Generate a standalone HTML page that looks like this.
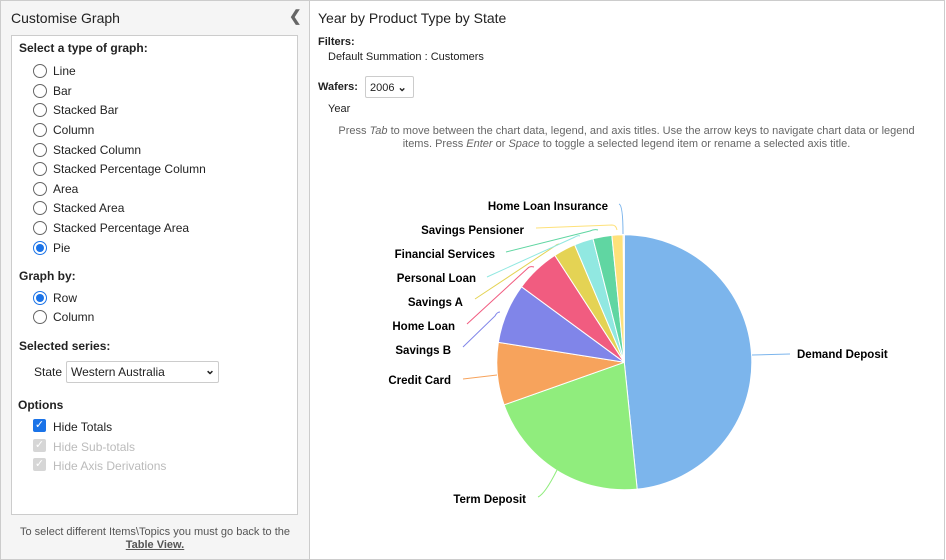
<!DOCTYPE html>
<html><head><meta charset="utf-8"><style>
body{margin:0;width:946px;height:560px;overflow:hidden;font-family:"Liberation Sans",Arial,sans-serif;background:#fff;position:relative}
.left{position:absolute;left:0;top:0;width:308px;height:558px;background:#f5f5f5;border:1px solid #ccc}
.right{position:absolute;left:309px;top:0;width:635px;height:558px;border:1px solid #ccc;border-left:none}
.ttl{position:absolute;left:10px;top:9px;font-size:14px;color:#222}
.box{position:absolute;left:10px;top:34px;width:285px;height:478px;background:#fff;border:1px solid #ccc}
.t{position:absolute;font-size:12px;color:#222}
.b{font-weight:bold}
.rad{position:absolute;width:12px;height:12px;border:1px solid #666;border-radius:50%;background:#fff}
.rad.on{border-color:#1a73e8}
.rad.on::after{content:"";position:absolute;left:2px;top:2px;width:8px;height:8px;border-radius:50%;background:#1a73e8}
.cb{position:absolute;width:13px;height:13px;border-radius:2px;background:#1a73e8;color:#fff;font-size:11px;line-height:13px;text-align:center}
.cb.dis{background:#d6d6d6}
</style></head><body>
<div class="left">
<div class="ttl">Customise Graph</div>
<div class="t" style="left:288px;top:6px;font-size:15px;color:#666;font-weight:bold">&#10094;</div>
<div class="box">
<div class="t b" style="left:7px;top:5px">Select a type of graph:</div>
<div class="rad" style="left:21px;top:28px"></div><div class="t" style="left:41px;top:28px">Line</div>
<div class="rad" style="left:21px;top:48px"></div><div class="t" style="left:41px;top:48px">Bar</div>
<div class="rad" style="left:21px;top:67px"></div><div class="t" style="left:41px;top:67px">Stacked Bar</div>
<div class="rad" style="left:21px;top:87px"></div><div class="t" style="left:41px;top:87px">Column</div>
<div class="rad" style="left:21px;top:107px"></div><div class="t" style="left:41px;top:107px">Stacked Column</div>
<div class="rad" style="left:21px;top:126px"></div><div class="t" style="left:41px;top:126px">Stacked Percentage Column</div>
<div class="rad" style="left:21px;top:146px"></div><div class="t" style="left:41px;top:146px">Area</div>
<div class="rad" style="left:21px;top:165px"></div><div class="t" style="left:41px;top:165px">Stacked Area</div>
<div class="rad" style="left:21px;top:185px"></div><div class="t" style="left:41px;top:185px">Stacked Percentage Area</div>
<div class="rad on" style="left:21px;top:205px"></div><div class="t" style="left:41px;top:205px">Pie</div>
<div class="t b" style="left:7px;top:233px">Graph by:</div>
<div class="rad on" style="left:21px;top:255px"></div><div class="t" style="left:41px;top:255px">Row</div>
<div class="rad" style="left:21px;top:274px"></div><div class="t" style="left:41px;top:274px">Column</div>
<div class="t b" style="left:7px;top:303px">Selected series:</div>
<div class="t" style="left:22px;top:329px">State</div>
<div style="position:absolute;left:54px;top:325px;width:151px;height:20px;border:1px solid #ccc;border-radius:2px"></div>
<div class="t" style="left:59px;top:329px">Western Australia</div>
<div class="t b" style="left:193px;top:327px;font-size:12px">&#8964;</div>
<div class="t b" style="left:6px;top:362px">Options</div>
<div class="cb" style="left:21px;top:383px">&#10003;</div><div class="t" style="left:41px;top:384px">Hide Totals</div>
<div class="cb dis" style="left:21px;top:403px">&#10003;</div><div class="t" style="left:41px;top:404px;color:#bbb">Hide Sub-totals</div>
<div class="cb dis" style="left:21px;top:422px">&#10003;</div><div class="t" style="left:41px;top:423px;color:#bbb">Hide Axis Derivations</div>
</div>
<div class="t" style="left:0;width:308px;text-align:center;top:525px;color:#555;font-size:11px;line-height:13px">To select different Items\Topics you must go back to the<br><b style="text-decoration:underline">Table View.</b></div>
</div>
<div class="right">
<div class="t" style="left:9px;top:9px;font-size:14px">Year by Product Type by State</div>
<div class="t b" style="left:9px;top:35px;font-size:11px">Filters:</div>
<div class="t" style="left:19px;top:50px;font-size:11px">Default Summation : Customers</div>
<div class="t b" style="left:9px;top:80px;font-size:11px">Wafers:</div>
<div style="position:absolute;left:56px;top:75px;width:47px;height:20px;border:1px solid #ccc;border-radius:2px"></div>
<div class="t" style="left:61px;top:80px;font-size:11px">2006 <b>&#8964;</b></div>
<div class="t" style="left:19px;top:102px;font-size:11px">Year</div>
<div class="t" style="left:0;width:635px;text-align:center;top:124px;font-size:11px;color:#666;line-height:13px">Press <i>Tab</i> to move between the chart data, legend, and axis titles. Use the arrow keys to navigate chart data or legend<br>items. Press <i>Enter</i> or <i>Space</i> to toggle a selected legend item or rename a selected axis title.</div>
</div>
<svg id="pie" width="946" height="560" style="position:absolute;left:0;top:0" font-family="Liberation Sans, DejaVu Sans, sans-serif" font-size="11.5" font-weight="bold"></svg>
<script>
var cx=624.3,cy=362.3,r=127.5;
var s=[[0,174.2,'#7cb5ec'],[174.2,250.5,'#90ed7d'],[250.5,279,'#f7a35c'],[279,306.3,'#8085e9'],[306.3,327,'#f15c80'],[327,337.1,'#e4d354'],[337.1,345.8,'#91e8e1'],[345.8,354.4,'#60d6a2'],[354.4,359.5,'#fee17a'],[359.5,360,'#7cb5ec']];
function p(a){a=a*Math.PI/180;return [cx+r*Math.sin(a),cy-r*Math.cos(a)];}
var h='';
s.forEach(function(d){var a=p(d[0]),b=p(d[1]);var l=(d[1]-d[0])>180?1:0;
h+='<path d="M'+cx+','+cy+' L'+a[0]+','+a[1]+' A'+r+','+r+' 0 '+l+' 1 '+b[0]+','+b[1]+' Z" fill="'+d[2]+'" stroke="#fff" stroke-width="1"/>';});
var L=[['Demand Deposit',797,358,'start','#7cb5ec','M752,355 L790,354'],
['Term Deposit',526,503,'end','#90ed7d','M538,497 Q545,494 557,470'],
['Credit Card',451,384,'end','#f7a35c','M463,379 L497,375'],
['Savings B',451,354,'end','#8085e9','M463,347 L495,316 Q497,312 500,312'],
['Home Loan',455,330,'end','#f15c80','M467,324 L528,268 Q530,266 534,267'],
['Savings A',463,306,'end','#e4d354','M475,299 L555,246 Q557,244 560,244'],
['Personal Loan',476,282,'end','#91e8e1','M487,277 L575,237 Q578,235 580,236'],
['Financial Services',495,258,'end','#60d6a2','M506,252 L590,231 Q594,229 598,230'],
['Savings Pensioner',524,234,'end','#fee17a','M536,228 L612,225 Q616,225 617,230'],
['Home Loan Insurance',608,210,'end','#7cb5ec','M619,204 Q623,205 623,234']];
L.forEach(function(d){h+='<path d="'+d[5]+'" fill="none" stroke="'+d[4]+'" stroke-width="1"/><text x="'+d[1]+'" y="'+d[2]+'" text-anchor="'+d[3]+'" fill="#000">'+d[0]+'</text>';});
document.getElementById('pie').innerHTML=h;
</script>
</body></html>
